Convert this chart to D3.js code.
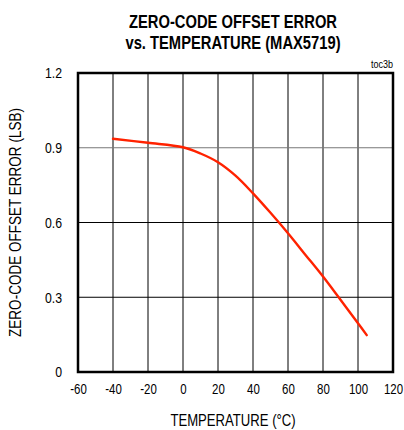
<!DOCTYPE html>
<html>
<head>
<meta charset="utf-8">
<script src="https://cdn.jsdelivr.net/npm/d3@7/dist/d3.min.js"></script>
<style>
  html, body { margin: 0; padding: 0; background: #fff; }
  svg { display: block; }
  text { font-family: "Liberation Sans", Arial, sans-serif; fill: #000; }
</style>
</head>
<body>
<svg id="chart" width="404" height="430"></svg>
<script>
// Zero-code offset error (LSB) versus temperature (°C)
const temperature = [-40, -20, 0, 10, 20, 30, 40, 50, 60, 70, 80, 90, 100, 105];
const offsetError = [0.936, 0.920, 0.902, 0.877, 0.842, 0.788, 0.717, 0.639, 0.557, 0.470, 0.383, 0.290, 0.196, 0.148];
const xTicks = [-60, -40, -20, 0, 20, 40, 60, 80, 100, 120];
const xTickLabels = ["-60", "-40", "-20", "0", "20", "40", "60", "80", "100", "120"];
const yTicks = [0, 0.3, 0.6, 0.9, 1.2];
const yTickLabels = ["0", "0.3", "0.6", "0.9", "1.2"];

const svg = d3.select("#chart");
const m = { left: 78, right: 11, top: 73, bottom: 58 };
const W = 404, H = 430;
const NARROW = 0.82; // condensed lettering

const x = d3.scaleLinear().domain([-60, 120]).range([m.left, W - m.right]);
const y = d3.scaleLinear().domain([0, 1.2]).range([H - m.bottom, m.top]);

// Condensed text placed at (px, py)
function label(px, py, str, size, opts = {}) {
  const t = svg.append("text")
    .attr("transform", `translate(${px},${py})${opts.rotate ? ` rotate(${opts.rotate})` : ""} scale(${NARROW},1)`)
    .attr("text-anchor", opts.anchor || "middle")
    .attr("font-size", size)
    .text(str);
  if (opts.bold) t.attr("font-weight", "bold");
  return t;
}

// Title
label(233, 28, "ZERO-CODE OFFSET ERROR", 18, { bold: true });
label(233, 49, "vs. TEMPERATURE (MAX5719)", 18, { bold: true });

// Gridlines
const grid = svg.append("g");
grid.selectAll("line.v").data(xTicks.slice(1, -1)).join("line")
  .attr("x1", d => x(d)).attr("x2", d => x(d))
  .attr("y1", y(1.2)).attr("y2", y(0))
  .attr("stroke", "#000").attr("stroke-width", 1);
grid.selectAll("line.h").data(yTicks.slice(1, -1)).join("line")
  .attr("x1", x(-60)).attr("x2", x(120))
  .attr("y1", d => y(d)).attr("y2", d => y(d))
  .attr("stroke", d => d === 0.9 ? "#777" : "#000").attr("stroke-width", 1);

// Axes: tick labels only, the frame is drawn separately
const xAxis = svg.append("g").attr("transform", `translate(0,${y(0)})`)
  .call(d3.axisBottom(x).tickValues(xTicks).tickSize(0).tickPadding(12)
    .tickFormat((d, i) => xTickLabels[i]));
xAxis.attr("font-family", null).attr("font-size", null);
xAxis.select(".domain").remove();
xAxis.selectAll("text").attr("font-size", 14).attr("transform", `scale(${NARROW},1)`);

const yPad = 16;
const yAxis = svg.append("g").attr("transform", `translate(${x(-60)},0)`)
  .call(d3.axisLeft(y).tickValues(yTicks).tickSize(0).tickPadding(yPad)
    .tickFormat((d, i) => yTickLabels[i]));
yAxis.attr("font-family", null).attr("font-size", null);
yAxis.select(".domain").remove();
yAxis.selectAll("text").attr("font-size", 15)
  .attr("x", -yPad / NARROW).attr("transform", `scale(${NARROW},1)`);

// Frame
svg.append("rect")
  .attr("x", x(-60)).attr("y", y(1.2))
  .attr("width", x(120) - x(-60)).attr("height", y(0) - y(1.2))
  .attr("fill", "none").attr("stroke", "#000").attr("stroke-width", 2.5);

// Curve
const line = d3.line().x((d, i) => x(temperature[i])).y(d => y(d)).curve(d3.curveCatmullRom);
svg.append("path").datum(offsetError)
  .attr("d", line).attr("fill", "none")
  .attr("stroke", "#ff2200").attr("stroke-width", 2.4).attr("stroke-linecap", "round");

// Axis titles
label(233, 426, "TEMPERATURE (°C)", 16);
label(21, (y(0) + y(1.2)) / 2, "ZERO-CODE OFFSET ERROR (LSB)", 16.5, { rotate: -90 });

// Figure tag
label(W - m.right, 68, "toc3b", 11, { anchor: "end" });
</script>
</body>
</html>
